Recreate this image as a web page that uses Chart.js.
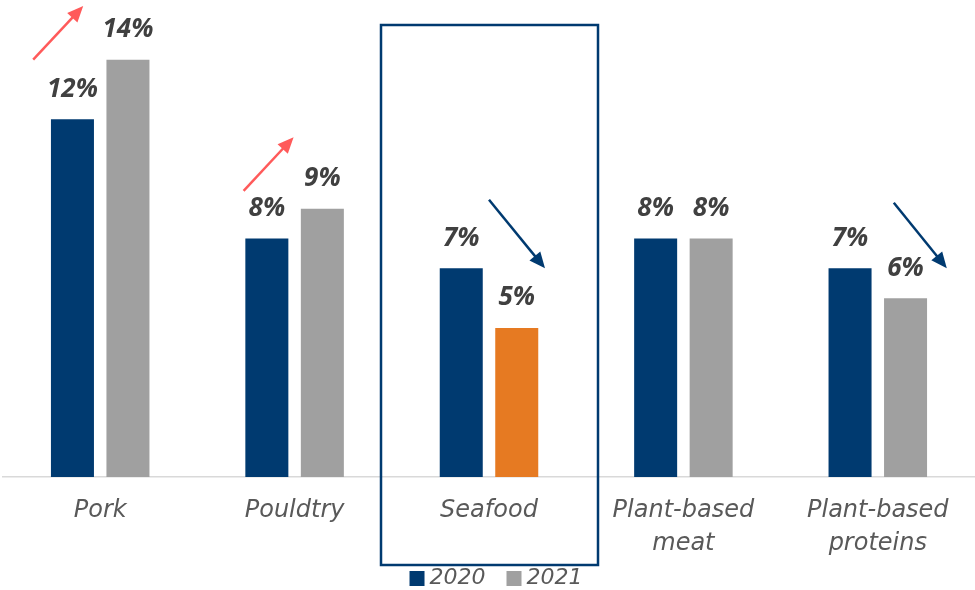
<!DOCTYPE html>
<html>
<head>
<meta charset="utf-8">
<script src="https://cdn.jsdelivr.net/npm/chart.js@4"></script>
<style>
  html, body { margin: 0; padding: 0; background: #fff; }
  #wrap { width: 975px; height: 590px; }
</style>
</head>
<body>
<div id="wrap"><canvas id="myChart"></canvas></div>
<script>
const categories = [['Pork'], ['Pouldtry'], ['Seafood'], ['Plant-based', 'meat'], ['Plant-based', 'proteins']];
const share2020 = [12, 8, 7, 8, 7];
const share2021 = [14, 9, 5, 8, 6];

const navy = '#003a70';
const grey = '#a0a0a0';
const orange = '#e67a22';
const red = '#ff5a5a';

// arrows: category index, colour, start/end offsets from category centre (px) and y value
const arrows = [
  { i: 0, color: red,  x0: -67, y0: 14, x1: -17, y1: 15.8 },
  { i: 1, color: red,  x0: -51, y0: 9.6, x1: -1, y1: 11.4 },
  { i: 2, color: navy, x0: 0,   y0: 9.3, x1: 56, y1: 7.0 },
  { i: 4, color: navy, x0: 16,  y0: 9.2, x1: 69, y1: 7.0 }
];

const extras = {
  id: 'extras',
  afterDatasetsDraw(chart) {
    const c = chart.ctx;
    const x = chart.scales.x, y = chart.scales.y;
    // value labels
    c.save();
    c.font = 'italic bold 26px "Noto Sans"';
    c.fillStyle = '#404040';
    c.textAlign = 'center';
    c.textBaseline = 'bottom';
    chart.data.datasets.forEach((ds, di) => {
      chart.getDatasetMeta(di).data.forEach((bar, i) => {
        c.fillText(ds.data[i] + '%', bar.x, bar.y - 17);
      });
    });
    // arrows
    arrows.forEach(a => {
      const cx = x.getPixelForValue(a.i);
      const sx = cx + a.x0, sy = y.getPixelForValue(a.y0);
      const ex = cx + a.x1, ey = y.getPixelForValue(a.y1);
      const ang = Math.atan2(ey - sy, ex - sx);
      c.strokeStyle = a.color;
      c.fillStyle = a.color;
      c.lineWidth = 2.5;
      c.beginPath();
      c.moveTo(sx, sy);
      c.lineTo(ex - 10 * Math.cos(ang), ey - 10 * Math.sin(ang));
      c.stroke();
      c.beginPath();
      c.moveTo(ex, ey);
      c.lineTo(ex - 16 * Math.cos(ang) + 7 * Math.sin(ang), ey - 16 * Math.sin(ang) - 7 * Math.cos(ang));
      c.lineTo(ex - 16 * Math.cos(ang) - 7 * Math.sin(ang), ey - 16 * Math.sin(ang) + 7 * Math.cos(ang));
      c.closePath();
      c.fill();
    });
    // box around seafood
    const sc = x.getPixelForValue(2);
    c.strokeStyle = navy;
    c.lineWidth = 2.5;
    c.strokeRect(sc - 108, 25, 217, 540);

    // legend under the box
    c.font = 'italic 22px "DejaVu Sans"';
    c.textAlign = 'left';
    c.textBaseline = 'middle';
    const items = chart.data.datasets.map((ds, di) => ({
      text: ds.label,
      color: di === 0 ? navy : grey,
      w: c.measureText(ds.label).width
    }));
    const total = items.reduce((s, it) => s + 20 + it.w, 0) + 21 * (items.length - 1);
    let lx = sc + 7 - total / 2;
    const ly = 578;
    items.forEach(it => {
      c.fillStyle = it.color;
      c.fillRect(lx, ly - 7, 15, 15);
      c.fillStyle = '#595959';
      c.fillText(it.text, lx + 20, ly);
      lx += 20 + it.w + 21;
    });
    c.restore();
  }
};

new Chart(document.getElementById('myChart'), {
  type: 'bar',
  data: {
    labels: categories,
    datasets: [
      { label: '2020', data: share2020, backgroundColor: navy },
      { label: '2021', data: share2021, backgroundColor: ctx => ctx.dataIndex === 2 ? orange : grey }
    ]
  },
  options: {
    responsive: true,
    maintainAspectRatio: false,
    animation: false,
    categoryPercentage: 0.571,
    barPercentage: 0.775,
    layout: { padding: { top: 15, left: 3, right: 0, bottom: 0 } },
    plugins: {
      tooltip: { enabled: false },
      legend: { display: false }
    },
    scales: {
      y: { display: false, min: 0, max: 15.5 },
      x: {
        grid: { display: false },
        border: { color: '#d9d9d9', width: 1.5 },
        afterFit: s => { s.height = 113; },
        ticks: {
          color: '#595959',
          padding: 10,
          font: { family: 'DejaVu Sans', size: 24, style: 'italic', lineHeight: 1.35 }
        }
      }
    }
  },
  plugins: [extras]
});
</script>
</body>
</html>
